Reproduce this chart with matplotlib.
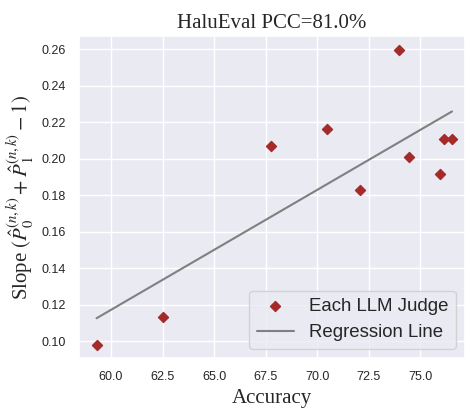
import numpy as np
import matplotlib
matplotlib.use("Agg")
import matplotlib.pyplot as plt
import seaborn as sns

# === Datos ===
accuracy = [59.30, 62.54, 67.75, 70.47, 72.09, 73.99, 74.48, 75.97, 76.17, 76.55]
slope = [0.0978, 0.1131, 0.2067, 0.2160, 0.1826, 0.2595, 0.2007, 0.1913, 0.2110, 0.2105]
x_ticks = [60.0, 62.5, 65.0, 67.5, 70.0, 72.5, 75.0]
y_ticks = [0.10, 0.12, 0.14, 0.16, 0.18, 0.20, 0.22, 0.24, 0.26]

# === Estilo ===
sns.set_theme(style="darkgrid")
plt.rcParams["font.family"] = ["Liberation Sans", "DejaVu Sans"]
plt.rcParams["mathtext.fontset"] = "stix"

x = np.array(accuracy)
y = np.array(slope)
coef = np.polyfit(x, y, 1)

fig = plt.figure(figsize=(4.65, 4.13), dpi=100)
ax = fig.add_axes([0.170, 0.133, 0.830, 0.780])

ax.scatter(x, y, marker="D", s=26, color="#a52a2a", label="Each LLM Judge", zorder=3)
x_line = np.linspace(x.min(), x.max(), 50)
ax.plot(x_line, np.polyval(coef, x_line), color="gray", linewidth=1.5, label="Regression Line")

ax.set_xlim(58.45, 77.18)
ax.set_ylim(0.0907, 0.2672)
ax.set_xticks(x_ticks)
ax.set_yticks(y_ticks)
ax.set_xticklabels([f"{t:.1f}" for t in x_ticks])
ax.set_yticklabels([f"{t:.2f}" for t in y_ticks])
ax.tick_params(labelsize=9)

serif = ["Liberation Serif", "DejaVu Serif"]
ax.set_title("HaluEval PCC=81.0%", fontsize=15, family=serif)
ax.set_xlabel("Accuracy", fontsize=15, family=serif)
ax.set_ylabel(r"Slope $(\hat{P}_0^{(n,k)} + \hat{P}_1^{(n,k)} - 1)$", fontsize=15, family=serif)

ax.legend(loc="lower right", fontsize=13.4)

fig.savefig("out.png", dpi=100)
plt.close()
